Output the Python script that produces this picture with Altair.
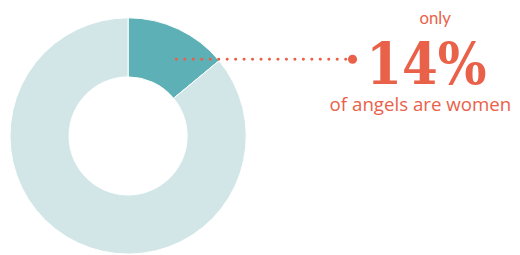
import altair as alt
import pandas as pd

categories = ["women", "men"]
values = [14, 86]
slice_order = [0, 1]
colors = ["#5db0b5", "#d2e6e8"]

label_top = "only"
label_big = "14%"
label_bottom = "of angels are women"
accent = "#ea6149"

df = pd.DataFrame({"group": categories, "share": values, "ord": slice_order})

W, H = 504, 239

donut = alt.Chart(df).mark_arc(outerRadius=120, innerRadius=60, stroke="white", strokeWidth=1).encode(
    theta=alt.Theta("share:Q", stack=True),
    color=alt.Color("group:N", scale=alt.Scale(domain=categories, range=colors), legend=None),
    order=alt.Order("ord:Q"),
    x=alt.value(119),
    y=alt.value(128),
)

ann = pd.DataFrame({"t": [label_top]})

leader = alt.Chart(ann).mark_rule(
    color=accent, strokeWidth=3, strokeDash=[0.1, 8.5], strokeCap="round"
).encode(x=alt.value(168), x2=alt.value(347), y=alt.value(50))

end_dot = alt.Chart(ann).mark_point(filled=True, color=accent, size=85, opacity=1).encode(
    x=alt.value(347), y=alt.value(50)
)

top_txt = alt.Chart(pd.DataFrame({"t": [label_top]})).mark_text(
    font="Lato", fontSize=17, color=accent, align="center", baseline="alphabetic"
).encode(text="t:N", x=alt.value(431), y=alt.value(14))

big_txt = alt.Chart(pd.DataFrame({"t": [label_big]})).mark_text(
    font="DejaVu Serif Condensed", fontWeight="bold", fontSize=58, color=accent,
    align="center", baseline="alphabetic"
).encode(text="t:N", x=alt.value(422), y=alt.value(75))

bottom_txt = alt.Chart(pd.DataFrame({"t": [label_bottom]})).mark_text(
    font="Open Sans", fontSize=19, color=accent, align="center", baseline="alphabetic"
).encode(text="t:N", x=alt.value(416), y=alt.value(103))

chart = alt.layer(donut, leader, end_dot, top_txt, big_txt, bottom_txt).properties(
    width=W, height=H, padding=0
).configure_view(stroke=None)

chart.save("out.html", embed_options={"renderer": "svg", "actions": False})
